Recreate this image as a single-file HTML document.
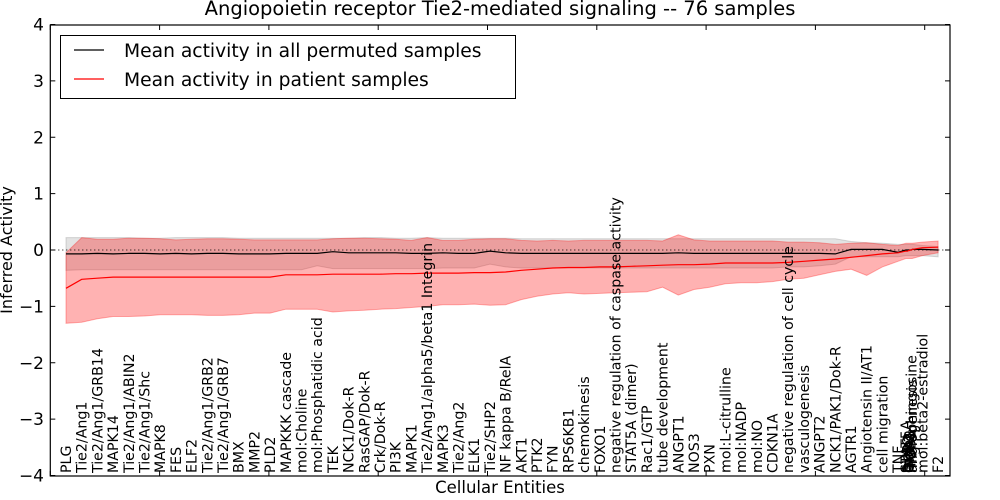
<!DOCTYPE html>
<html><head><meta charset="utf-8"><style>
html,body{margin:0;padding:0;background:#fff;}
svg{display:block;font-family:"DejaVu Sans","Liberation Sans",sans-serif;}
</style></head><body>
<svg id="chart" width="1000" height="500" viewBox="0 0 1000 500" xmlns="http://www.w3.org/2000/svg">
<text x="500" y="15" text-anchor="middle" font-size="19.5">Angiopoietin receptor Tie2-mediated signaling -- 76 samples</text>
<g id="plot"></g>
<text x="500" y="493" text-anchor="middle" font-size="16.5">Cellular Entities</text>
<text transform="translate(12,250) rotate(-90)" text-anchor="middle" font-size="16">Inferred Activity</text>
</svg>
<script>
const categories = ["PLG","Tie2/Ang1","Tie2/Ang1/GRB14","MAPK14","Tie2/Ang1/ABIN2","Tie2/Ang1/Shc","MAPK8","FES","ELF2","Tie2/Ang1/GRB2","Tie2/Ang1/GRB7","BMX","MMP2","PLD2","MAPKKK cascade","mol:Choline","mol:Phosphatidic acid","TEK","NCK1/Dok-R","RasGAP/Dok-R","Crk/Dok-R","PI3K","MAPK1","Tie2/Ang1/alpha5/beta1 Integrin","MAPK3","Tie2/Ang2","ELK1","Tie2/SHP2","NF kappa B/RelA","AKT1","PTK2","FYN","RPS6KB1","chemokinesis","FOXO1","negative regulation of caspase activity","STAT5A (dimer)","Rac1/GTP","tube development","ANGPT1","NOS3","PXN","mol:L-citrulline","mol:NADP","mol:NO","CDKN1A","negative regulation of cell cycle","vasculogenesis","ANGPT2","NCK1/PAK1/Dok-R","AGTR1","Angiotensin II/AT1","cell migration","TNF","STAT5A","SHP2","DOK2","GRB2","ITGA5","ITGB1","mol:Sphingosine","angiogenesis","mol:beta2-estradiol","F2"];
const xValues = [0,1,2,3,4,5,6,7,8,9,10,11,12,13,14,15,16,17,18,19,20,21,22,23,24,25,26,27,28,29,30,31,32,33,34,35,36,37,38,39,40,41,42,43,44,45,46,47,48,49,50,51,52,53,53.5,53.6,53.65,53.7,53.75,53.8,53.85,53.9,54.55,55.55];
const permMean = [-0.07,-0.07,-0.06,-0.07,-0.06,-0.06,-0.07,-0.06,-0.07,-0.06,-0.06,-0.07,-0.07,-0.07,-0.06,-0.06,-0.06,-0.03,-0.05,-0.05,-0.05,-0.05,-0.06,-0.06,-0.05,-0.06,-0.06,-0.02,-0.05,-0.06,-0.06,-0.06,-0.06,-0.06,-0.06,-0.06,-0.06,-0.06,-0.06,-0.05,-0.06,-0.06,-0.06,-0.06,-0.06,-0.06,-0.06,-0.06,-0.06,-0.07,0.01,0.01,0.01,-0.04,0.0,0.0,0.0,0.0,0.0,0.0,0.0,0.01,0.01,0.0];
const permUpper = [0.22,0.22,0.22,0.22,0.22,0.21,0.21,0.22,0.22,0.22,0.22,0.21,0.21,0.21,0.21,0.21,0.21,0.21,0.21,0.22,0.22,0.21,0.21,0.22,0.21,0.21,0.21,0.21,0.21,0.2,0.2,0.2,0.2,0.2,0.2,0.2,0.2,0.2,0.2,0.2,0.2,0.2,0.2,0.2,0.2,0.2,0.2,0.2,0.2,0.2,0.15,0.13,0.12,0.1,0.1,0.1,0.1,0.1,0.1,0.1,0.1,0.1,0.08,0.06];
const permLower = [-0.36,-0.35,-0.35,-0.35,-0.35,-0.35,-0.35,-0.35,-0.35,-0.35,-0.35,-0.35,-0.35,-0.35,-0.35,-0.35,-0.28,-0.33,-0.33,-0.33,-0.33,-0.33,-0.33,-0.33,-0.32,-0.32,-0.32,-0.25,-0.3,-0.32,-0.32,-0.32,-0.32,-0.32,-0.32,-0.32,-0.32,-0.32,-0.32,-0.32,-0.32,-0.32,-0.32,-0.32,-0.32,-0.32,-0.3,-0.3,-0.28,-0.25,-0.12,-0.12,-0.12,-0.12,-0.1,-0.1,-0.1,-0.1,-0.1,-0.1,-0.1,-0.1,-0.1,-0.12];
const patientMean = [-0.68,-0.52,-0.5,-0.48,-0.48,-0.48,-0.48,-0.48,-0.48,-0.48,-0.48,-0.48,-0.48,-0.48,-0.44,-0.44,-0.44,-0.43,-0.43,-0.43,-0.43,-0.42,-0.42,-0.41,-0.41,-0.41,-0.4,-0.4,-0.39,-0.36,-0.34,-0.32,-0.31,-0.31,-0.3,-0.3,-0.29,-0.28,-0.27,-0.26,-0.26,-0.25,-0.23,-0.23,-0.23,-0.23,-0.22,-0.2,-0.18,-0.16,-0.13,-0.1,-0.07,-0.05,-0.02,-0.02,-0.01,-0.01,0.0,0.0,0.0,0.01,0.04,0.05];
const patientUpper = [-0.05,0.22,0.19,0.19,0.21,0.21,0.2,0.18,0.19,0.2,0.2,0.19,0.18,0.18,0.18,0.18,0.18,0.2,0.21,0.21,0.2,0.19,0.17,0.22,0.17,0.17,0.19,0.2,0.2,0.17,0.16,0.17,0.16,0.17,0.17,0.17,0.17,0.17,0.16,0.27,0.18,0.16,0.16,0.16,0.16,0.16,0.14,0.14,0.13,0.1,0.12,0.13,0.1,0.08,0.12,0.12,0.12,0.12,0.12,0.12,0.12,0.12,0.14,0.16];
const patientLower = [-1.3,-1.28,-1.22,-1.18,-1.18,-1.17,-1.15,-1.15,-1.15,-1.16,-1.16,-1.15,-1.12,-1.12,-1.05,-1.05,-1.05,-1.1,-1.08,-1.07,-1.05,-1.04,-1.02,-1.0,-0.97,-0.97,-0.96,-0.98,-0.97,-0.88,-0.82,-0.78,-0.76,-0.78,-0.77,-0.76,-0.75,-0.74,-0.66,-0.8,-0.7,-0.66,-0.6,-0.58,-0.58,-0.56,-0.52,-0.5,-0.44,-0.38,-0.34,-0.45,-0.3,-0.2,-0.15,-0.15,-0.15,-0.15,-0.15,-0.15,-0.15,-0.15,-0.1,-0.05];
const yTicks = [-4,-3,-2,-1,0,1,2,3,4];
const xTicks = [1,8,15,22,29,36,43,50,57];

const L=50.3,R=950,T=25,B=476;
const ys = v => 250 - v*56.375;
const xs = x => 66 + x*15.7;
const NS="http://www.w3.org/2000/svg";
const plot=document.getElementById('plot');
function mk(tag,attrs,parent){const e=document.createElementNS(NS,tag);for(const k in attrs)e.setAttribute(k,attrs[k]);(parent||plot).appendChild(e);return e;}
function band(up,lo){let d='';xValues.forEach((x,i)=>{d+=(i?'L':'M')+xs(x).toFixed(1)+','+ys(up[i]).toFixed(1);});for(let i=xValues.length-1;i>=0;i--)d+='L'+xs(xValues[i]).toFixed(1)+','+ys(lo[i]).toFixed(1);return d+'Z';}
function line(v){return xValues.map((x,i)=>(i?'L':'M')+xs(x).toFixed(1)+','+ys(v[i]).toFixed(1)).join('');}

const gb=mk('path',{d:band(permUpper,permLower),fill:'rgba(128,128,128,0.22)',stroke:'rgba(128,128,128,0.3)'});


const rb=mk('path',{d:band(patientUpper,patientLower),fill:'rgba(255,0,0,0.3)',stroke:'rgba(255,0,0,0.3)'});


const zl=mk('line',{x1:L,x2:R,y1:ys(0),y2:ys(0),stroke:'#000','stroke-dasharray':'1,3'});


const bl=mk('path',{d:line(permMean),fill:'none',stroke:'#000','stroke-width':1.2});


const rl=mk('path',{d:line(patientMean),fill:'none',stroke:'#f00','stroke-width':1.2});



categories.forEach((c,i)=>{
  const t=mk('text',{transform:`translate(${(xs(xValues[i])+5).toFixed(1)},473) rotate(-90)`,'font-size':'14.2'});
  t.textContent=c;
  
  
});
yTicks.forEach(v=>{
  const y=ys(v);
  mk('line',{x1:L,x2:L+5,y1:y,y2:y,stroke:'#000'});
  mk('line',{x1:R-5,x2:R,y1:y,y2:y,stroke:'#000'});
  const t=mk('text',{x:44,y:y+6,'text-anchor':'end','font-size':'17'});
  t.textContent=(v<0?'\u2212'+(-v):v);
  
  
});
xTicks.forEach(v=>{
  const x=L+(v-1)*109.3/7;
  mk('line',{x1:x,x2:x,y1:B,y2:B-5,stroke:'#000'});
  mk('line',{x1:x,x2:x,y1:T,y2:T+5,stroke:'#000'});
});
const fr=mk('rect',{x:L,y:T,width:R-L,height:B-T,fill:'none',stroke:'#000','stroke-width':1.2});



const lg=mk('g',{});


mk('rect',{x:60.5,y:35.5,width:455,height:63,fill:'#fff',stroke:'#000'},lg);
mk('line',{x1:74,x2:104,y1:50,y2:50,stroke:'#000','stroke-width':1.2},lg);
mk('line',{x1:74,x2:104,y1:79,y2:79,stroke:'#f00','stroke-width':1.2},lg);
const l1=mk('text',{x:124,y:57,'font-size':'18.7'},lg);l1.textContent='Mean activity in all permuted samples';


const l2=mk('text',{x:124,y:86,'font-size':'18.7'},lg);l2.textContent='Mean activity in patient samples';


</script>
</body></html>
